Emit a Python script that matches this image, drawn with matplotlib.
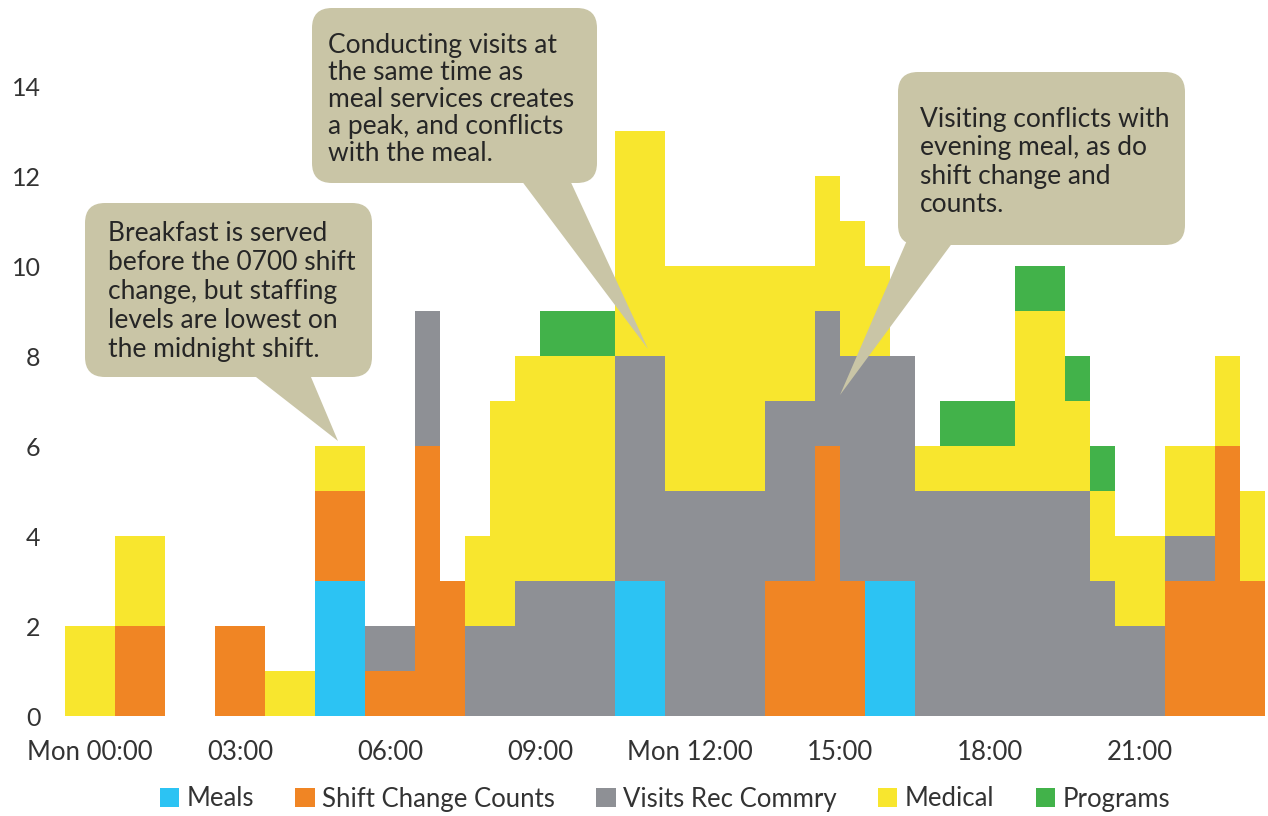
import numpy as np
import matplotlib
matplotlib.use("Agg")
import matplotlib.pyplot as plt
from matplotlib.patches import FancyBboxPatch, Polygon

plt.rcParams['font.family'] = ['Lato', 'DejaVu Sans']

# ---------- data: activity counts per 30-minute bin, Mon 00:00 .. 23:30 ----------
bin_start = np.arange(48) * 0.5 - 0.5          # hours, bins centred on the hour/half hour
meals =    [0, 0, 0, 0, 0, 0, 0, 0, 0, 0, 3, 3, 0, 0, 0, 0,
            0, 0, 0, 0, 0, 0, 3, 3, 0, 0, 0, 0, 0, 0, 0, 0,
            3, 3, 0, 0, 0, 0, 0, 0, 0, 0, 0, 0, 0, 0, 0, 0]
shift =    [0, 0, 2, 2, 0, 0, 2, 2, 0, 0, 2, 2, 1, 1, 6, 3,
            0, 0, 0, 0, 0, 0, 0, 0, 0, 0, 0, 0, 3, 3, 6, 3,
            0, 0, 0, 0, 0, 0, 0, 0, 0, 0, 0, 0, 3, 3, 6, 3]
visits =   [0, 0, 0, 0, 0, 0, 0, 0, 0, 0, 0, 0, 1, 1, 3, 0,
            2, 2, 3, 3, 3, 3, 5, 5, 5, 5, 5, 5, 4, 4, 3, 5,
            5, 5, 5, 5, 5, 5, 5, 5, 5, 3, 2, 2, 1, 1, 0, 0]
medical =  [2, 2, 2, 2, 0, 0, 0, 0, 1, 1, 1, 1, 0, 0, 0, 0,
            2, 5, 5, 5, 5, 5, 5, 5, 5, 5, 5, 5, 3, 3, 3, 3,
            2, 0, 1, 1, 1, 1, 4, 4, 2, 2, 2, 2, 2, 2, 2, 2]
programs = [0, 0, 0, 0, 0, 0, 0, 0, 0, 0, 0, 0, 0, 0, 0, 0,
            0, 0, 0, 1, 1, 1, 0, 0, 0, 0, 0, 0, 0, 0, 0, 0,
            0, 0, 0, 1, 1, 1, 1, 1, 1, 1, 0, 0, 0, 0, 0, 0]

series_names = ["Meals", "Shift Change Counts", "Visits Rec Commry", "Medical", "Programs"]
series_colors = ["#2cc3f3", "#f08524", "#8e9095", "#f8e62e", "#42b24a"]

tick_hours = [0, 3, 6, 9, 12, 15, 18, 21]
tick_labels = ["Mon 00:00", "03:00", "06:00", "09:00", "Mon 12:00", "15:00", "18:00", "21:00"]

callouts = [
    ["Breakfast is served", "before the 0700 shift", "change, but staffing",
     "levels are lowest on", "the midnight shift."],
    ["Conducting visits at", "the same time as", "meal services creates",
     "a peak, and conflicts", "with the meal."],
    ["Visiting conflicts with", "evening meal, as do", "shift change and", "counts."],
]

# ---------- figure ----------
W, H = 1268, 816
fig = plt.figure(figsize=(W / 100, H / 100), dpi=100)
ax = fig.add_axes([60 / W, 100 / H, (W - 60) / W, 675 / H])

bottom = np.zeros(len(bin_start))
for name, vals, col in zip(series_names, [meals, shift, visits, medical, programs], series_colors):
    vals = np.array(vals, dtype=float)
    ax.bar(bin_start, vals, width=0.5, bottom=bottom, align="edge",
           color=col, linewidth=0, label=name)
    bottom += vals

ax.set_xlim(-0.6, 23.56)
ax.set_ylim(0, 15)
ax.set_yticks(range(0, 15, 2))
ax.set_xticks(tick_hours)
ax.set_xticklabels(tick_labels)
ax.tick_params(axis="both", length=0, labelsize=18.5, colors="#333333")
ax.tick_params(axis="y", labelsize=18, pad=14)
ax.tick_params(axis="x", pad=17)
for s in ax.spines.values():
    s.set_visible(False)

fig.legend(loc="center", bbox_to_anchor=(665 / W, 17 / H), ncol=5, frameon=False,
           fontsize=18.5, handlelength=0.75, handleheight=0.75, handletextpad=0.3,
           columnspacing=1.6, labelcolor="#333333")

# ---------- callouts (drawn in pixel coordinates on an overlay) ----------
ov = fig.add_axes([0, 0, 1, 1], zorder=5)
ov.set_xlim(0, W)
ov.set_ylim(H, 0)
ov.axis("off")
ov.patch.set_alpha(0)

box_col = "#c9c5a6"
# box (x0, y0, x1, y1), tail polygon, text left, first baseline, line pitch
boxes = [
    ((85, 203, 372, 377), [(247, 370), (308, 370), (338, 441)], 108, 241, 29),
    ((312, 8, 597, 183), [(518, 176), (568, 176), (648, 349)], 328, 53, 27),
    ((898, 72, 1185, 245), [(908, 238), (956, 238), (840, 395)], 920, 127, 28.3),
]
for (x0, y0, x1, y1), tail, _, _, _ in boxes:
    ov.add_patch(FancyBboxPatch((x0, y0), x1 - x0, y1 - y0,
                                boxstyle="round,pad=0,rounding_size=20",
                                facecolor=box_col, edgecolor="none"))
    ov.add_patch(Polygon(tail, closed=True, facecolor=box_col, edgecolor="none"))

for lines, b in zip(callouts, boxes):
    tx, ty, pitch = b[2], b[3], b[4]
    for i, line in enumerate(lines):
        ov.text(tx, ty + i * pitch, line, fontsize=19, color="#262626",
                ha="left", va="baseline")

fig.savefig("out.png", dpi=100)
